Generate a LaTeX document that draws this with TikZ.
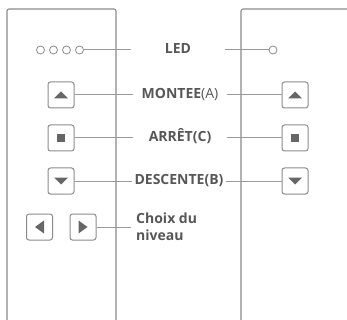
\documentclass[tikz,border=0pt]{standalone}
\usepackage{fontspec}
\setmainfont{Open Sans}
\usetikzlibrary{calc}
\definecolor{remgray}{HTML}{8A8A8A}
\definecolor{remline}{HTML}{9A9A9A}
\definecolor{remdark}{HTML}{666666}
\definecolor{remtext}{HTML}{575757}

\begin{document}
\begin{tikzpicture}[x=1pt,y=-1pt,every node/.style={font=\fontsize{14}{17}\selectfont\bfseries,text=remtext}]
\tikzset{
  key/.style={draw=remgray,line width=1pt,rounded corners=2.5pt,minimum size=26pt,inner sep=0pt},
  led/.style={circle,draw=remgray,line width=0.8pt,minimum size=8pt,inner sep=0pt},
  lbl/.style={inner sep=0pt,minimum width=94pt,text height=10pt,text depth=2.5pt},
  lead/.style={remline,line width=1pt},
  glyph/.style={fill=remdark}
}
\useasboundingbox (0,0) rectangle (347,320);
% housings
\draw[remgray,line width=1.1pt,rounded corners=2pt] (7,320) -- (7,9) -- (116,9) -- (116,320);
\draw[remgray,line width=1.1pt,rounded corners=2pt] (241,320) -- (241,9) -- (347,9);
% leds
\foreach \i/\x in {1/40.5,2/53.5,3/66.5,4/79.5}
  \node[led] (ledL\i) at (\x,50) {};
\node[led] (ledR) at (273,50) {};
% keys
\node[key] (upL) at (61,95) {};
\node[key] (stopL) at (61,138) {};
\node[key] (downL) at (61,181) {};
\node[key] (leftL) at (39.5,227) {};
\node[key] (rightL) at (83,227) {};
\node[key] (upR) at (295,95) {};
\node[key] (stopR) at (295,138) {};
\node[key] (downR) at (295,181) {};
\foreach \k in {upL,upR}
  \fill[glyph,shift={(\k)}] (-7,3.5) -- (7,3.5) -- (0,-3.5) -- cycle;
\foreach \k in {stopL,stopR}
  \fill[glyph,shift={(\k)}] (-3.8,-3.8) rectangle (3.8,3.8);
\foreach \k in {downL,downR}
  \fill[glyph,shift={(\k)}] (-7,-3.5) -- (7,-3.5) -- (0,3.5) -- cycle;
\fill[glyph,shift={(leftL)}] (-4.5,0) -- (4.5,-6.5) -- (4.5,6.5) -- cycle;
\fill[glyph,shift={(rightL)}] (4.5,0) -- (-4.5,-6.5) -- (-4.5,6.5) -- cycle;
% labels
\node[lbl] (led) at (178,50) {LED};
\node[lbl] (montee) at (180,95) {MONTEE{\mdseries(A)}};
\node[lbl] (arret) at (180,138) {ARRÊT(C)};
\node[lbl] (descente) at (179,181) {DESCENTE(B)};
\node[anchor=north west,align=left,inner sep=0pt] (choix) at (136,213) {Choix du\\niveau};
% leaders
\draw[lead] (ledL4.east) -- (led.west);
\draw[lead] (led.east) -- (ledR.west);
\foreach \a/\b/\c in {upL/montee/upR,stopL/arret/stopR,downL/descente/downR}{
  \draw[lead] (\a.east) -- (\b.west);
  \draw[lead] (\b.east) -- (\c.west);
}
\draw[lead,shorten >=5pt] (rightL.east) -- (rightL.east -| choix.west);
\end{tikzpicture}
\end{document}
